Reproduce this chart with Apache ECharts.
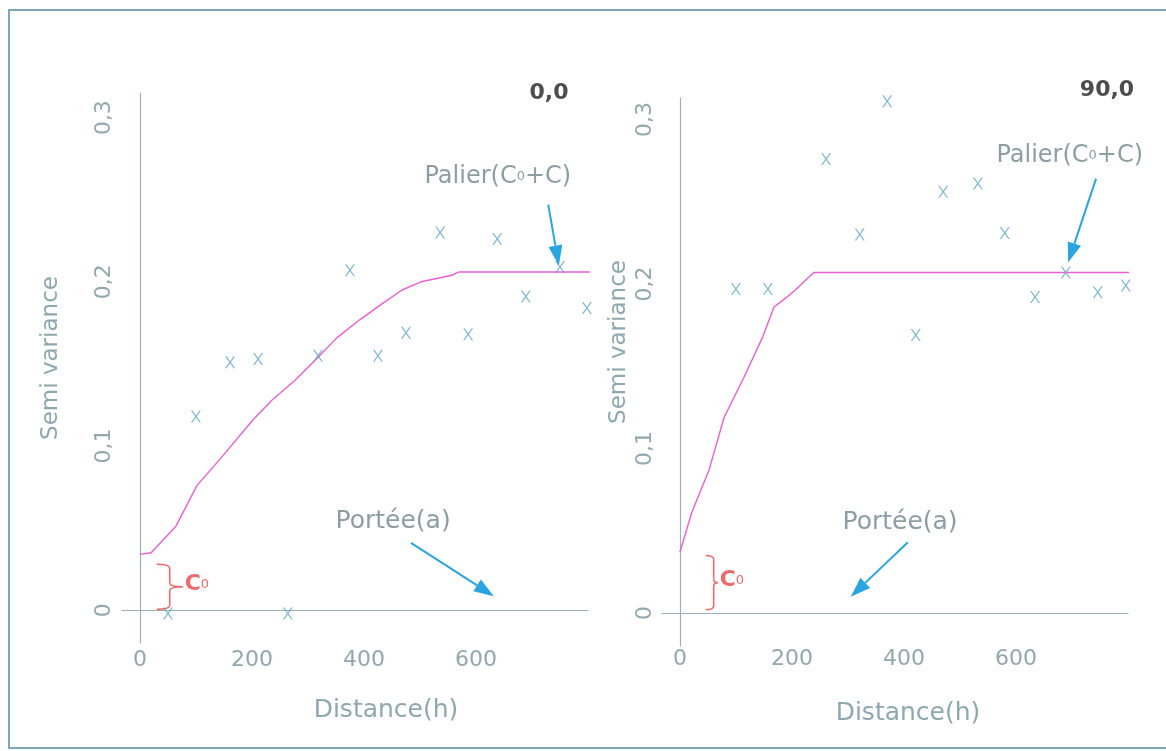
<!DOCTYPE html>
<html><head><meta charset="utf-8">
<script src="https://cdn.jsdelivr.net/npm/echarts@6/dist/echarts.min.js"></script>
<style>html,body{margin:0;padding:0;background:#fff}#c{width:1166px;height:751px}</style>
</head><body><div id="c"></div>
<script>
// ---- data ----
const xTicks = [0, 200, 400, 600];
const yTicks = [0, 0.1, 0.2, 0.3];
const panelTitles = ['0,0', '90,0'];
const xName = 'Distance(h)';
const yName = 'Semi variance';

// panel 0,0 : experimental points
const dist0 = [50, 100, 161, 211, 264, 318, 375, 425, 475, 536, 586, 638, 689, 750, 798];
const var0  = [-0.002, 0.118, 0.151, 0.153, -0.002, 0.155, 0.207, 0.155, 0.169, 0.230, 0.168, 0.226, 0.191, 0.209, 0.184];
// panel 0,0 : fitted model
const modelDist0 = [0, 20, 64, 102, 143, 202, 236, 277, 318, 352, 393, 434, 468, 502, 557, 570, 808];
const modelVar0  = [0.034, 0.035, 0.051, 0.076, 0.092, 0.116, 0.128, 0.140, 0.154, 0.166, 0.177, 0.187, 0.195, 0.200, 0.204, 0.206, 0.206];

// panel 90,0 : experimental points
const dist1 = [100, 157, 261, 321, 370, 421, 470, 532, 580, 634, 689, 746, 796];
const var1  = [0.197, 0.197, 0.276, 0.230, 0.311, 0.169, 0.256, 0.261, 0.231, 0.192, 0.207, 0.195, 0.199];
// panel 90,0 : fitted model
const modelDist1 = [0, 21, 52, 79, 114, 148, 168, 191, 205, 239, 802];
const modelVar1  = [0.037, 0.061, 0.087, 0.119, 0.143, 0.168, 0.186, 0.192, 0.196, 0.207, 0.207];

// annotations (data coordinates)
const palierLabel = 'Palier(C{s|0}+C)';
const porteeLabel = 'Portée(a)';
const palierText  = [[639, 0.264], [696, 0.278]];
const porteeText  = [[452, 0.054], [393, 0.055]];
const palierArrow = [[[729, 0.247], [748, 0.210]], [[743, 0.264], [693, 0.213]]];
const porteeArrow = [[[484, 0.041], [632, 0.0085]], [[407, 0.043], [305, 0.010]]];
const nuggetBrace = [[30, 0.028, 0.0006], [46, 0.035, 0.002]]; // x, top, bottom

// ---- styles ----
const FONT = 'DejaVu Sans';
const TICK_COLOR = '#93a8ae';
const AXIS_COLOR = '#9bb1b8';
const NAME_COLOR = '#8ea8b0';
const MARK_COLOR = '#5ea8c6';
const MODEL_COLOR = '#ec5fd2';
const ARROW_COLOR = '#2aa5df';
const RED = '#ee6b6b';
const xSymbol = 'path://M0,0 L1.5,0 L5,5 L8.5,0 L10,0 L5.8,6 L10,12 L8.5,12 L5,7 L1.5,12 L0,12 L4.2,6 Z';

const zip = (a, b) => a.map((v, i) => [v, b[i]]);
const yFmt = v => (v === 0 ? '0' : String(+v.toFixed(1)).replace('.', ','));

function xAxisCfg(gi, margin) {
  return {
    type: 'value', gridIndex: gi, min: -32, max: 800,
    splitLine: { show: false }, axisTick: { show: false },
    axisLine: { onZero: true, lineStyle: { color: AXIS_COLOR, width: 1.2 } },
    axisLabel: { customValues: xTicks, margin: margin, fontFamily: FONT, fontSize: 22, color: TICK_COLOR }
  };
}
function yAxisCfg(gi, max, margin) {
  return {
    type: 'value', gridIndex: gi, min: -0.02, max: max,
    splitLine: { show: false }, axisTick: { show: false },
    axisLine: { onZero: true, lineStyle: { color: AXIS_COLOR, width: 1.2 } },
    axisLabel: { customValues: yTicks, rotate: 90, margin: margin, fontFamily: FONT, fontSize: 22, color: TICK_COLOR, formatter: yFmt }
  };
}

const chart = echarts.init(document.getElementById('c'));
chart.setOption({
  animation: false,
  backgroundColor: '#ffffff',
  grid: [
    { left: 122, top: 93, width: 466, height: 550 },
    { left: 662, top: 98, width: 466, height: 548 }
  ],
  xAxis: [xAxisCfg(0, 6), xAxisCfg(1, 2)],
  yAxis: [yAxisCfg(0, 0.315, 7), yAxisCfg(1, 0.313, 6)],
  series: [
    { type: 'line', xAxisIndex: 0, yAxisIndex: 0, data: zip(modelDist0, modelVar0), showSymbol: false, clip: false,
      lineStyle: { color: MODEL_COLOR, width: 1.4 }, z: 2 },
    { type: 'scatter', xAxisIndex: 0, yAxisIndex: 0, data: zip(dist0, var0), symbol: xSymbol, symbolSize: [10, 12],
      itemStyle: { color: MARK_COLOR }, z: 3 },
    { type: 'line', xAxisIndex: 1, yAxisIndex: 1, data: zip(modelDist1, modelVar1), showSymbol: false, clip: false,
      lineStyle: { color: MODEL_COLOR, width: 1.4 }, z: 2 },
    { type: 'scatter', xAxisIndex: 1, yAxisIndex: 1, data: zip(dist1, var1), symbol: xSymbol, symbolSize: [10, 12],
      itemStyle: { color: MARK_COLOR }, z: 3 }
  ]
});

// ---- annotations positioned through the axes ----
const px = (gi, p) => chart.convertToPixel({ gridIndex: gi }, p);
const g = [];
g.push({ type: 'rect', shape: { x: 9, y: 10, width: 1170, height: 738 }, style: { fill: 'none', stroke: '#7fa6b6', lineWidth: 2 }, silent: true });

function arrow(gi, seg) {
  const a = px(gi, seg[0]), b = px(gi, seg[1]);
  const dx = b[0] - a[0], dy = b[1] - a[1], L = Math.hypot(dx, dy);
  const ux = dx / L, uy = dy / L, hl = 20, hw = 7;
  const bx = b[0] - ux * hl, by = b[1] - uy * hl;
  g.push({ type: 'line', shape: { x1: a[0], y1: a[1], x2: bx, y2: by }, style: { stroke: ARROW_COLOR, lineWidth: 2 } });
  g.push({ type: 'polygon', shape: { points: [[b[0], b[1]], [bx - uy * hw, by + ux * hw], [bx + uy * hw, by - ux * hw]] }, style: { fill: ARROW_COLOR } });
}
function brace(gi, spec, tipW, armX) {
  const top = px(gi, [spec[0], spec[1]]), bot = px(gi, [spec[0], spec[2]]);
  const x0 = top[0], y0 = top[1], H = bot[1] - top[1], m = H / 2, r = 4;
  const st = { stroke: RED, lineWidth: 1.6, fill: 'none' };
  const ax = x0 + armX;
  g.push({ type: 'bezierCurve', shape: { x1: x0, y1: y0, x2: ax, y2: y0 + r, cpx1: ax, cpy1: y0 }, style: st });
  g.push({ type: 'line', shape: { x1: ax, y1: y0 + r, x2: ax, y2: y0 + m - r }, style: st });
  g.push({ type: 'bezierCurve', shape: { x1: ax, y1: y0 + m - r, x2: x0 + tipW, y2: y0 + m, cpx1: ax, cpy1: y0 + m }, style: st });
  g.push({ type: 'bezierCurve', shape: { x1: x0 + tipW, y1: y0 + m, x2: ax, y2: y0 + m + r, cpx1: ax, cpy1: y0 + m }, style: st });
  g.push({ type: 'line', shape: { x1: ax, y1: y0 + m + r, x2: ax, y2: y0 + H - r }, style: st });
  g.push({ type: 'bezierCurve', shape: { x1: ax, y1: y0 + H - r, x2: x0, y2: y0 + H, cpx1: ax, cpy1: y0 + H }, style: st });
  g.push({ type: 'text', x: x0 + tipW + 2, y: y0 + m - 2, style: { text: '{c|C}{s|0}', fill: RED, align: 'left', verticalAlign: 'middle',
    rich: { c: { fontFamily: FONT, fontSize: 22, fontWeight: 'bold', fill: RED }, s: { fontFamily: FONT, fontSize: 13, fill: RED } } } });
}
function text(x, y, t, size, color, weight, rot, rich) {
  const el = { type: 'text', x: x, y: y, rotation: rot || 0,
    style: { text: t, fontFamily: FONT, fontSize: size, fontWeight: weight || 'normal', fill: color, align: 'center', verticalAlign: 'middle' } };
  if (rich) el.style.rich = rich;
  g.push(el);
}

for (let gi = 0; gi < 2; gi++) {
  arrow(gi, palierArrow[gi]);
  arrow(gi, porteeArrow[gi]);
  const pt = px(gi, palierText[gi]);
  text(pt[0], pt[1], palierLabel, 24, '#8c9ea4', 'normal', 0, { s: { fontFamily: FONT, fontSize: 13, fill: '#8c9ea4' } });
  const pp = px(gi, porteeText[gi]);
  text(pp[0], pp[1], porteeLabel, 25, '#8c9ea4');
}
brace(0, nuggetBrace[0], 26, 13);
brace(1, nuggetBrace[1], 12, 8);

// titles and axis names
text(549, 93, panelTitles[0], 22, '#4d4d4d', 'bold');
text(1107, 90, panelTitles[1], 22, '#4d4d4d', 'bold');
text(386, 710, xName, 25, NAME_COLOR);
text(908, 713, xName, 25, NAME_COLOR);
text(51, 358, yName, 23, NAME_COLOR, 'normal', Math.PI / 2);
text(619, 342, yName, 23, NAME_COLOR, 'normal', Math.PI / 2);

chart.setOption({ graphic: g });
</script>
</body></html>
